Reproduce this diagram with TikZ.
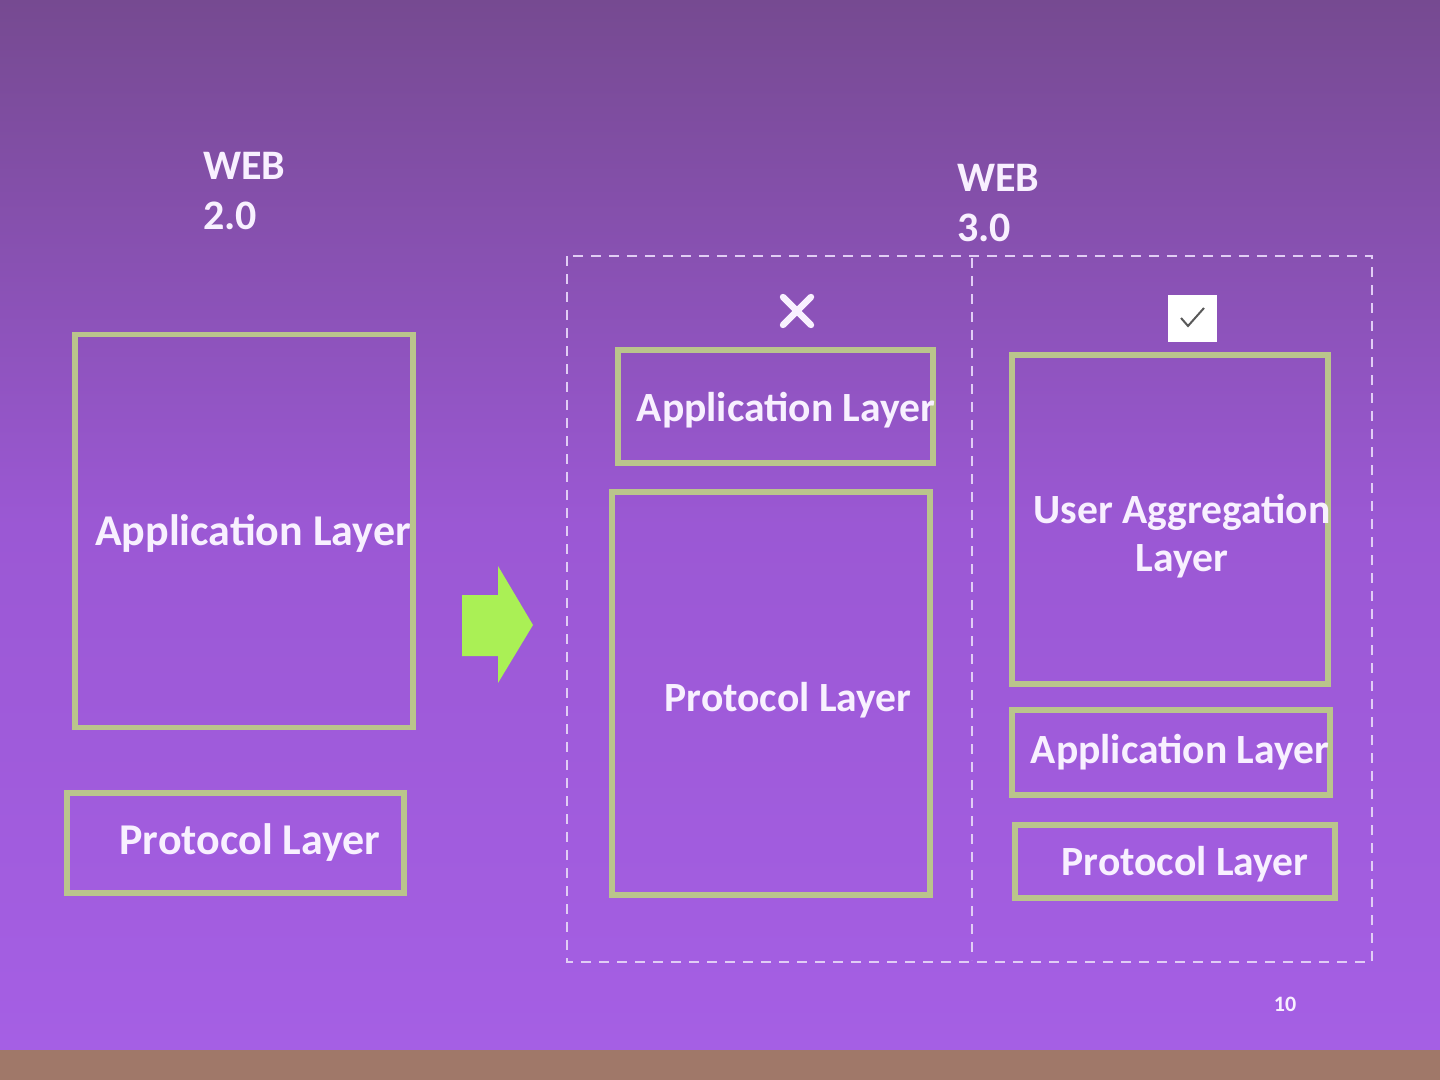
\documentclass[tikz,border=0pt]{standalone}
\usepackage{fontspec}
\setmainfont{Carlito}
\definecolor{bgtop}{RGB}{118,74,145}
\definecolor{bgmid}{RGB}{155,88,212}
\definecolor{bgbot}{RGB}{165,95,228}
\definecolor{boxline}{RGB}{186,196,140}
\definecolor{arrowfill}{RGB}{170,240,85}
\definecolor{dashline}{RGB}{225,205,245}
\definecolor{txt}{RGB}{248,240,255}
\definecolor{strip}{RGB}{160,120,105}
\begin{document}
\begin{tikzpicture}[x=0.5pt,y=-0.5pt,
  layerbox/.style={draw=boxline,line width=2.6pt,inner sep=0pt},
  layertext/.style={text=txt,font=\fontsize{22}{25}\selectfont\bfseries,align=center,inner sep=0pt},
  layertextsm/.style={text=txt,font=\fontsize{20.8}{24}\selectfont\bfseries,align=center,inner sep=0pt},
  webtext/.style={text=txt,font=\fontsize{21}{25}\selectfont\bfseries,align=left,anchor=north west,inner sep=0pt},
  dashbox/.style={draw=dashline,line width=1pt,dash pattern=on 5pt off 4pt}]
\useasboundingbox (0,0) rectangle (1440,1080);
\shade[top color=bgtop,bottom color=bgbot,middle color=bgmid] (0,0) rectangle (1440,1050);
\fill[strip] (0,1050) rectangle (1440,1080);
% WEB 2.0
\node[webtext] (w2) at (203,152) {WEB\\2.0};
\node[layerbox,minimum width=169pt,minimum height=196.5pt] (app2) at (244,531) {};
\node[layertext] (app2t) at (253,533) {Application Layer};
\node[layerbox,minimum width=168.5pt,minimum height=50pt] (pro2) at (235.5,843) {};
\node[layertext] (pro2t) at (250,843) {Protocol Layer};
% arrow
\fill[arrowfill] (462,595) -- (498,595) -- (498,566) -- (533,625) -- (498,683) -- (498,656) -- (462,656) -- cycle;
% WEB 3.0
\node[webtext] (w3) at (957,164) {WEB\\3.0};
\draw[dashbox] (567,256) rectangle (1372,962);
\coordinate (dtop) at (972,258);
\coordinate (dbot) at (972,960);
\draw[dashbox] (dtop) -- (dbot);
% cross
\draw[txt,line width=3.2pt,line cap=round] (783,297) -- (811,325) (811,297) -- (783,325);
% check box
\node[fill=white,minimum width=24.5pt,minimum height=23.5pt,inner sep=0pt] (chk) at (1192.5,318.5) {};
\draw[gray!70!black,line width=1pt] (1181,318) -- (1188,326) -- (1204,308);
% left column
\node[layerbox,minimum width=157.5pt,minimum height=56.5pt] (app3a) at (775.5,406.5) {};
\node[layertextsm] (app3at) at (786,410) {Application Layer};
\node[layerbox,minimum width=159pt,minimum height=201.5pt] (pro3a) at (771,693.5) {};
\node[layertextsm] (pro3at) at (788,700) {Protocol Layer};
% right column
\node[layerbox,minimum width=158pt,minimum height=164.5pt] (uagg) at (1170,519.5) {};
\node[layertextsm] (uaggt) at (1182,536) {User Aggregation\\Layer};
\node[layerbox,minimum width=159pt,minimum height=42.5pt] (app3b) at (1171,752.5) {};
\node[layertextsm] (app3bt) at (1180,752) {Application Layer};
\node[layerbox,minimum width=160pt,minimum height=36.5pt] (pro3b) at (1175,861.5) {};
\node[layertextsm] (pro3bt) at (1185,864) {Protocol Layer};
% page number
\node[text=txt,font=\fontsize{11}{12}\selectfont\bfseries,inner sep=0pt] (pg) at (1285,1004) {10};
\end{tikzpicture}
\end{document}
